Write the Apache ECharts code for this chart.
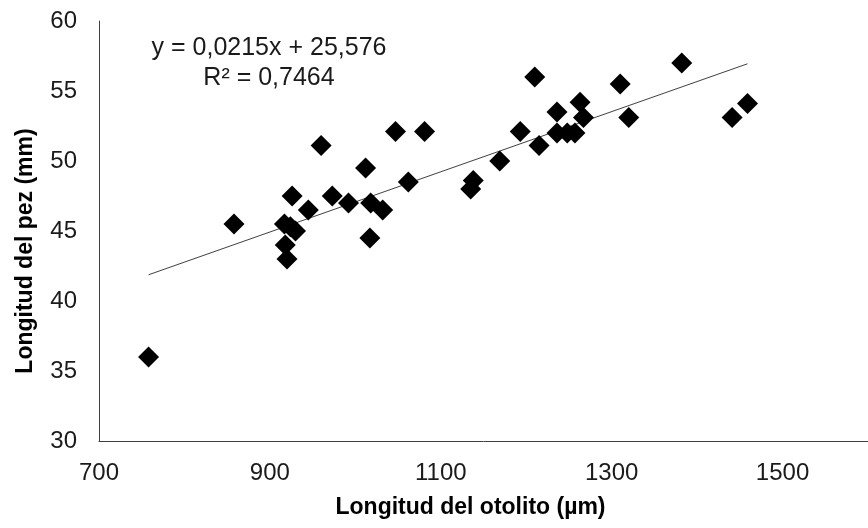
<!DOCTYPE html>
<html>
<head>
<meta charset="utf-8">
<script src="https://cdn.jsdelivr.net/npm/echarts@6/dist/echarts.min.js"></script>
<style>
html,body{margin:0;padding:0;background:#fff;}
#chart{width:868px;height:528px;}
</style>
</head>
<body>
<div id="chart"></div>
<script>
// Otolith length (µm)
var otolithLength = [758, 858, 917, 918, 920, 924, 930, 926, 945, 960, 973, 992, 1012, 1017, 1018, 1032, 1047, 1062, 1081, 1135, 1138, 1169, 1193, 1210, 1215, 1236, 1236, 1248, 1257, 1263, 1267, 1310, 1320, 1382, 1441, 1459];
// Fish length (mm)
var fishLength = [36.0, 45.5, 45.5, 44.0, 43.0, 45.3, 45.0, 47.5, 46.5, 51.1, 47.5, 47.0, 49.5, 44.5, 47.0, 46.5, 52.1, 48.5, 52.1, 48.0, 48.6, 50.0, 52.1, 56.0, 51.1, 53.5, 52.0, 52.0, 52.0, 54.2, 53.1, 55.5, 53.1, 57.0, 53.1, 54.1];
// Linear trend (from the chart's equation)
var trendSlope = 0.0215;
var trendIntercept = 25.576;
var equationLines = ['y = 0,0215x + 25,576', 'R² = 0,7464'];
var xTitle = 'Longitud del otolito (µm)';
var yTitle = 'Longitud del pez (mm)';

var points = otolithLength.map(function (x, i) { return [x, fishLength[i]]; });
var xMinData = Math.min.apply(null, otolithLength);
var xMaxData = Math.max.apply(null, otolithLength);
var trendData = [
  [xMinData, trendSlope * xMinData + trendIntercept],
  [xMaxData, trendSlope * xMaxData + trendIntercept]
];

var FONT = "'Liberation Sans', Arial, sans-serif";
var chart = echarts.init(document.getElementById('chart'), null, {renderer: 'canvas'});
chart.setOption({
  animation: false,
  backgroundColor: '#ffffff',
  grid: {left: 99, top: 21, right: -12, bottom: 87, containLabel: false},
  xAxis: {
    type: 'value', min: 700, max: 1600, interval: 200,
    axisLine: {show: true, lineStyle: {color: '#404040', width: 1}},
    axisTick: {show: false},
    splitLine: {show: false},
    axisLabel: {color: '#1a1a1a', fontFamily: FONT, fontSize: 24, margin: 20, showMaxLabel: false,
      formatter: function (v) { return String(v); }},
    name: xTitle, nameLocation: 'middle', nameGap: 55,
    nameTextStyle: {color: '#000', fontFamily: FONT, fontSize: 23, fontWeight: 'bold', padding: [0, 26, 0, 0]}
  },
  yAxis: {
    type: 'value', min: 30, max: 60, interval: 5,
    axisLine: {show: true, lineStyle: {color: '#404040', width: 1}},
    axisTick: {show: false},
    splitLine: {show: false},
    axisLabel: {color: '#1a1a1a', fontFamily: FONT, fontSize: 24, margin: 22,
      formatter: function (v) { return String(v); }},
    name: yTitle, nameLocation: 'middle', nameGap: 62,
    nameTextStyle: {color: '#000', fontFamily: FONT, fontSize: 23, fontWeight: 'bold', padding: [0, 40, 0, 0]}
  },
  graphic: [{
    type: 'text', x: 269, y: 33,
    style: {
      text: equationLines.join('\n'),
      fill: '#1a1a1a', font: '25px ' + FONT, textAlign: 'center', align: 'center', lineHeight: 30
    }
  }],
  series: [{
    type: 'line', data: trendData, symbol: 'none', silent: true,
    lineStyle: {color: '#404040', width: 1}, z: 1
  }, {
    type: 'scatter', data: points, symbol: 'diamond', symbolSize: 21,
    itemStyle: {color: '#000000', opacity: 1}, z: 2
  }]
});
</script>
</body>
</html>
